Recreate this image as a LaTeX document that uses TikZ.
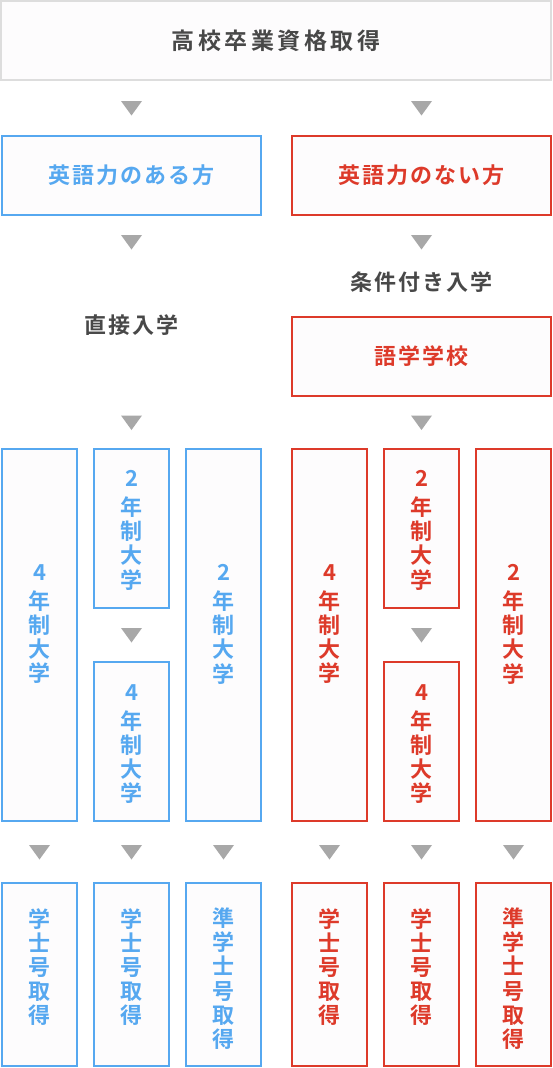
\documentclass[tikz,border=0pt]{standalone}
\usepackage{fontspec}
\newfontfamily\jpfont{Noto Sans CJK JP Bold}
\newfontfamily\jpwide{Noto Sans CJK JP Bold}[LetterSpace=9]
\newfontfamily\jptop{Noto Sans CJK JP Bold}[LetterSpace=15]
\usetikzlibrary{calc,positioning}
\definecolor{boxblue}{RGB}{86,168,240}
\definecolor{boxred}{RGB}{221,58,42}
\definecolor{textgray}{RGB}{72,72,72}
\definecolor{markgray}{RGB}{168,168,168}
\definecolor{framegray}{RGB}{221,221,221}
\definecolor{boxfill}{RGB}{253,252,253}
\tikzstyle{every node}+=[inner sep=0pt,outer sep=0pt]
\tikzstyle{box}=[rectangle,draw,fill=boxfill,line width=1.2pt,minimum width=75pt]
\tikzstyle{bluebox}=[box,draw=boxblue]
\tikzstyle{redbox}=[box,draw=boxred]
\tikzstyle{wide}=[font=\jpwide\fontsize{22}{24}\selectfont]
\tikzstyle{tall}=[align=center,font=\jpfont\fontsize{22}{24.2}\selectfont]
\tikzstyle{downmark}=[fill=markgray]

\begin{document}
\begin{tikzpicture}[x=1pt,y=-1pt]
\useasboundingbox (0,0) rectangle (552,1068);

% top rows
\node[box,draw=framegray,minimum width=550pt,minimum height=79pt,text=textgray,font=\jptop\fontsize{23}{24}\selectfont] (top) at (276,40.5) {高校卒業資格取得};
\node[bluebox,wide,text=boxblue,minimum width=259pt,minimum height=79pt] (ok) at (131.5,175.5) {英語力のある方};
\node[redbox,wide,text=boxred,minimum width=259pt,minimum height=79pt] (ng) at (421.5,175.5) {英語力のない方};
\node[wide,text=textgray] (direct) at (131.5,325) {直接入学};
\node[wide,text=textgray] (cond) at (421.5,282) {条件付き入学};
\node[redbox,wide,text=boxred,minimum width=259pt,minimum height=79pt] (school) at (421.5,356.5) {語学学校};

% columns
\node[bluebox,minimum height=372pt] (b1) at (39.5,635) {};
\node[bluebox,minimum height=159pt] (b2) at (131.5,528.5) {};
\node[bluebox,minimum height=159pt] (b3) at (131.5,741.5) {};
\node[bluebox,minimum height=372pt] (b4) at (223.5,635) {};
\node[redbox,minimum height=372pt] (r1) at (329.5,635) {};
\node[redbox,minimum height=159pt] (r2) at (421.5,528.5) {};
\node[redbox,minimum height=159pt] (r3) at (421.5,741.5) {};
\node[redbox,minimum height=372pt] (r4) at (513.5,635) {};

\node[bluebox,minimum height=183pt] (d1) at (39.5,974.5) {};
\node[bluebox,minimum height=183pt] (d2) at (131.5,974.5) {};
\node[bluebox,minimum height=183pt] (d3) at (223.5,974.5) {};
\node[redbox,minimum height=183pt] (e1) at (329.5,974.5) {};
\node[redbox,minimum height=183pt] (e2) at (421.5,974.5) {};
\node[redbox,minimum height=183pt] (e3) at (513.5,974.5) {};

% column texts
\foreach \n/\c in {b/boxblue,r/boxred} {
  \node[tall,text=\c] (\n1t) at ($(\n1)+(0,-11)$) {4\\[5pt]年\\制\\大\\学};
  \node[tall,text=\c] (\n2t) at ($(\n2)+(0,1.5)$) {2\\[5pt]年\\制\\大\\学};
  \node[tall,text=\c] (\n3t) at ($(\n3)+(0,2.5)$) {4\\[5pt]年\\制\\大\\学};
  \node[tall,text=\c] (\n4t) at ($(\n4)+(0,-11)$) {2\\[5pt]年\\制\\大\\学};
}
\foreach \n/\c in {d/boxblue,e/boxred} {
  \node[tall,text=\c] (\n1t) at ($(\n1)+(0,-7.5)$) {学\\士\\号\\取\\得};
  \node[tall,text=\c] (\n2t) at ($(\n2)+(0,-7.5)$) {学\\士\\号\\取\\得};
  \node[tall,text=\c] (\n3t) at ($(\n3)+(0,4)$) {準\\学\\士\\号\\取\\得};
}

% down marks
\coordinate (m1) at ($(ok.north)+(0,-28)$);
\coordinate (m2) at ($(ng.north)+(0,-28)$);
\coordinate (m3) at ($(ok.south)+(0,27)$);
\coordinate (m4) at ($(ng.south)+(0,27)$);
\coordinate (m5) at ($(ok |- school.south)!.5!(b2.north)$);
\coordinate (m6) at ($(school.south)!.5!(r2.north)$);
\foreach \p in {m1,m2,m3,m4,m5,m6}
  \fill[downmark] (\p) +(-10.5,-7) -- +(10.5,-7) -- +(0,7.5) -- cycle;
\foreach \a/\b in {b2/b3,r2/r3,b1/d1,b3/d2,b4/d3,r1/e1,r3/e2,r4/e3}
  \fill[downmark] ($(\a.south)!.5!(\b.north)$) +(-10.5,-7) -- +(10.5,-7) -- +(0,7.5) -- cycle;
\end{tikzpicture}
\end{document}
